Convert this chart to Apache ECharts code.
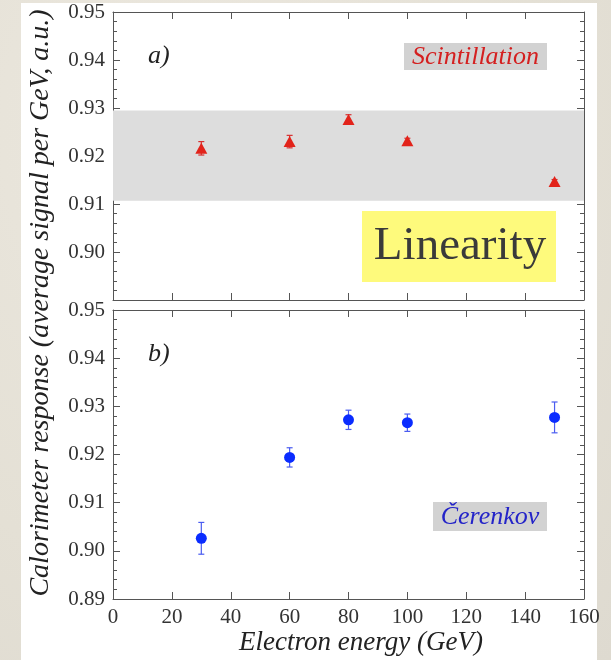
<!DOCTYPE html>
<html>
<head>
<meta charset="utf-8">
<script src="https://cdn.jsdelivr.net/npm/echarts@6/dist/echarts.min.js"></script>
<style>
  html, body { margin: 0; padding: 0; }
  body {
    width: 611px; height: 660px; overflow: hidden; position: relative;
    background: radial-gradient(ellipse at 30% 20%, #ece8df 0%, #e4e0d5 60%, #dedad0 100%);
  }
  #sheet { position: absolute; left: 21px; top: 3px; width: 576px; height: 657px; background: #fff; }
  #chart { position: absolute; left: 0; top: 0; width: 611px; height: 660px; }
</style>
</head>
<body>
<div id="sheet"></div>
<div id="chart"></div>
<script>
// Beam energies (GeV)
const energies = [30, 60, 80, 100, 150];
// a) scintillation signal per GeV and its uncertainty
const scintValues = [0.9216, 0.9230, 0.9276, 0.9232, 0.9147];
const scintErrors = [0.0014, 0.0013, 0.0010, 0.0005, 0.0004];
// b) Cerenkov signal per GeV and its uncertainty
const cerenValues = [0.9026, 0.9194, 0.9272, 0.9266, 0.9277];
const cerenErrors = [0.0033, 0.0020, 0.0020, 0.0018, 0.0032];
// ±1% band around the mean scintillation response
const bandLow = 0.9107;
const bandHigh = 0.9295;
// axis ranges
const xMin = 0, xMax = 160, xStep = 20;
const yMin = 0.89, yMax = 0.95, yStep = 0.01;

const serif = '"Liberation Serif", "Times New Roman", serif';
const frame = '#555';

function xAxisDef(gridIndex, position, withLabels) {
  return {
    type: 'value', gridIndex, position, min: xMin, max: xMax, interval: xStep,
    axisLine: { show: true, onZero: false, lineStyle: { color: frame, width: 1 } },
    axisTick: { show: true, inside: true, length: 7, lineStyle: { color: frame } },
    splitLine: { show: false },
    axisLabel: {
      show: withLabels, margin: 8, fontFamily: serif, fontSize: 21, color: '#333'
    }
  };
}

function yAxisDef(gridIndex, position, withLabels, showMin) {
  return {
    type: 'value', gridIndex, position, min: yMin, max: yMax, interval: yStep,
    axisLine: { show: true, onZero: false, lineStyle: { color: frame, width: 1 } },
    axisTick: { show: true, inside: true, length: 7, lineStyle: { color: frame } },
    minorTick: { show: true, splitNumber: 5, length: 4, lineStyle: { color: frame } },
    splitLine: { show: false },
    axisLabel: {
      show: withLabels, showMinLabel: showMin, margin: 8,
      fontFamily: serif, fontSize: 21, color: '#333',
      formatter: v => v.toFixed(2)
    }
  };
}

function errorBars(xAxisIndex, yAxisIndex, values, errors, color) {
  return {
    type: 'custom', xAxisIndex, yAxisIndex, z: 3,
    data: energies.map((e, i) => [e, values[i], errors[i]]),
    encode: { x: 0, y: 1 },
    renderItem: (params, api) => {
      const x = api.value(0), y = api.value(1), err = api.value(2);
      const hi = api.coord([x, y + err]);
      const lo = api.coord([x, y - err]);
      const cap = 3;
      const style = { stroke: color, lineWidth: 1.2 };
      return {
        type: 'group',
        children: [
          { type: 'line', shape: { x1: hi[0], y1: hi[1], x2: lo[0], y2: lo[1] }, style },
          { type: 'line', shape: { x1: hi[0] - cap, y1: hi[1], x2: hi[0] + cap, y2: hi[1] }, style },
          { type: 'line', shape: { x1: lo[0] - cap, y1: lo[1], x2: lo[0] + cap, y2: lo[1] }, style }
        ]
      };
    }
  };
}

const chart = echarts.init(document.getElementById('chart'), null, { renderer: 'canvas' });

chart.setOption({
  animation: false,
  backgroundColor: 'transparent',
  grid: [
    { left: 113, right: 27, top: 12, height: 288, show: false },
    { left: 113, right: 27, top: 310, height: 289, show: false }
  ],
  xAxis: [
    xAxisDef(0, 'bottom', false),
    xAxisDef(0, 'top', false),
    xAxisDef(1, 'bottom', true),
    xAxisDef(1, 'top', false)
  ],
  yAxis: [
    yAxisDef(0, 'left', true, false),
    yAxisDef(0, 'right', false, false),
    yAxisDef(1, 'left', true, true),
    yAxisDef(1, 'right', false, false)
  ],
  series: [
    {
      name: 'Scintillation', type: 'scatter', xAxisIndex: 0, yAxisIndex: 0, z: 4,
      symbol: 'triangle', symbolSize: [12, 11],
      itemStyle: { color: '#e2231a', opacity: 1 },
      data: energies.map((e, i) => [e, scintValues[i]]),
      markArea: {
        silent: true,
        itemStyle: { color: '#dddddd', opacity: 1 },
        data: [[{ yAxis: bandLow }, { yAxis: bandHigh }]]
      }
    },
    errorBars(0, 0, scintValues, scintErrors, '#d83030'),
    {
      name: 'Čerenkov', type: 'scatter', xAxisIndex: 2, yAxisIndex: 2, z: 4,
      symbol: 'circle', symbolSize: 11,
      itemStyle: { color: '#0a2cff', opacity: 1 },
      data: energies.map((e, i) => [e, cerenValues[i]])
    },
    errorBars(2, 2, cerenValues, cerenErrors, '#4a5cf0')
  ],
  graphic: [
    // panel tags
    { type: 'text', left: 148, top: 43, style: { text: 'a)', font: 'italic 26px ' + serif, fill: '#222' } },
    { type: 'text', left: 148, top: 341, style: { text: 'b)', font: 'italic 26px ' + serif, fill: '#222' } },
    // series captions
    { type: 'rect', shape: { x: 404, y: 43, width: 143, height: 27 }, style: { fill: '#d2d2d2' } },
    { type: 'text', x: 475.5, y: 57, style: { text: 'Scintillation', font: 'italic 26px ' + serif, fill: '#d42020', align: 'center', verticalAlign: 'middle' } },
    { type: 'rect', shape: { x: 433, y: 502, width: 114, height: 29 }, style: { fill: '#d2d2d2' } },
    { type: 'text', x: 490, y: 517, style: { text: 'Čerenkov', font: 'italic 26px ' + serif, fill: '#2424c8', align: 'center', verticalAlign: 'middle' } },
    // band label
    { type: 'rect', shape: { x: 318, y: 168, width: 57, height: 22 }, style: { fill: '#ffffff' } },
    { type: 'text', x: 346.5, y: 180, style: { text: '±1%', font: '24px ' + serif, fill: '#222', align: 'center', verticalAlign: 'middle' } },
    // highlighted note
    { type: 'rect', shape: { x: 362, y: 211, width: 194, height: 71 }, style: { fill: '#fefa7c' } },
    { type: 'text', x: 460, y: 247, style: { text: 'Linearity', font: '47px ' + serif, fill: '#3a3a3a', align: 'center', verticalAlign: 'middle' } },
    // axis titles
    { type: 'text', x: 361, y: 643, style: { text: 'Electron energy (GeV)', font: 'italic 27px ' + serif, fill: '#222', align: 'center', verticalAlign: 'middle' } },
    { type: 'text', x: 41, y: 303, rotation: Math.PI / 2, style: { text: 'Calorimeter response (average signal per GeV, a.u.)', font: 'italic 28px ' + serif, fill: '#222', align: 'center', verticalAlign: 'middle' } }
  ]
});
</script>
</body>
</html>
